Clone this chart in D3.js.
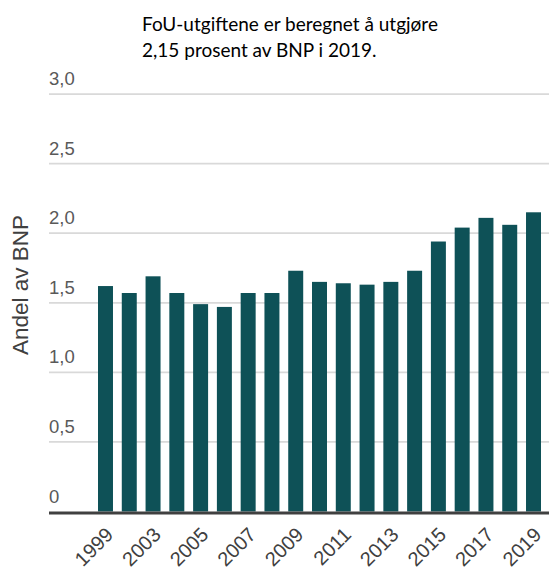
<!doctype html>
<html>
<head>
<meta charset="utf-8">
<style>
  body { margin: 0; background: #fff; }
  .bar { fill: #0e5157; }
  .grid line { stroke: #d9d9d9; stroke-width: 1.75px; }
  .ytick { font-family: "Liberation Sans", Arial, sans-serif; font-size: 18.5px; fill: #595959; }
  .xtick { font-family: "Liberation Sans", Arial, sans-serif; font-size: 20px; fill: #404040; }
  .title { font-family: Lato, "Open Sans", sans-serif; font-size: 19px; fill: #000; }
  .ytitle { font-family: "Liberation Sans", Arial, sans-serif; font-size: 22.5px; fill: #404040; }
</style>
<script src="https://d3js.org/d3.v7.min.js"></script>
</head>
<body>
<svg width="549" height="568"></svg>
<script>
var years = ["1999", "2001", "2003", "2004", "2005", "2006", "2007", "2008", "2009", "2010",
             "2011", "2012", "2013", "2014", "2015", "2016", "2017", "2018", "2019"];
var values = [1.62, 1.57, 1.69, 1.57, 1.49, 1.47, 1.57, 1.57, 1.73, 1.65,
              1.64, 1.63, 1.65, 1.73, 1.94, 2.04, 2.11, 2.06, 2.15];
var yTicks = [0, 0.5, 1, 1.5, 2, 2.5, 3];
var yTickLabels = ["0", "0,5", "1,0", "1,5", "2,0", "2,5", "3,0"];
var titleLines = ["FoU-utgiftene er beregnet å utgjøre", "2,15 prosent av BNP i 2019."];

var svg = d3.select("svg");
var left = 49, right = 549;

var x = d3.scaleBand().domain(years).range([93.6, 545.4]).paddingInner(0.37).paddingOuter(0.185);
var y = d3.scaleLinear().domain([0, 3]).range([511.5, 94]);

// gridlines
svg.append("g").attr("class", "grid")
   .selectAll("line")
   .data(yTicks.slice(1))
   .enter().append("line")
   .attr("x1", left).attr("x2", right)
   .attr("y1", function(d) { return y(d); })
   .attr("y2", function(d) { return y(d); });

// y tick labels
svg.selectAll(".ytick")
   .data(yTicks)
   .enter().append("text")
   .attr("class", "ytick")
   .attr("x", left)
   .attr("y", function(d) { return y(d) - 9; })
   .text(function(d, i) { return yTickLabels[i]; });

// bars
svg.selectAll(".bar")
   .data(values)
   .enter().append("rect")
   .attr("class", "bar")
   .attr("x", function(d, i) { return x(years[i]); })
   .attr("y", function(d) { return y(d); })
   .attr("width", x.bandwidth())
   .attr("height", function(d) { return y(0) - y(d); });

// x axis line
svg.append("line")
   .attr("x1", left).attr("x2", right)
   .attr("y1", y(0) + 1.5).attr("y2", y(0) + 1.5)
   .attr("stroke", "#404040").attr("stroke-width", 3);

// x labels (every other category)
svg.selectAll(".xtick")
   .data(years.filter(function(d, i) { return i % 2 === 0; }))
   .enter().append("text")
   .attr("class", "xtick")
   .attr("text-anchor", "end")
   .attr("transform", function(d) {
       return "translate(" + (x(d) + x.bandwidth() / 2 + 9) + ",536) rotate(-45)";
   })
   .text(function(d) { return d; });

// y axis title
svg.append("text")
   .attr("class", "ytitle")
   .attr("text-anchor", "middle")
   .attr("transform", "translate(28,285) rotate(-90)")
   .text("Andel av BNP");

// title
svg.selectAll(".title")
   .data(titleLines)
   .enter().append("text")
   .attr("class", "title")
   .attr("x", 142)
   .attr("y", function(d, i) { return 31 + i * 26; })
   .text(function(d) { return d; });
</script>
</body>
</html>
